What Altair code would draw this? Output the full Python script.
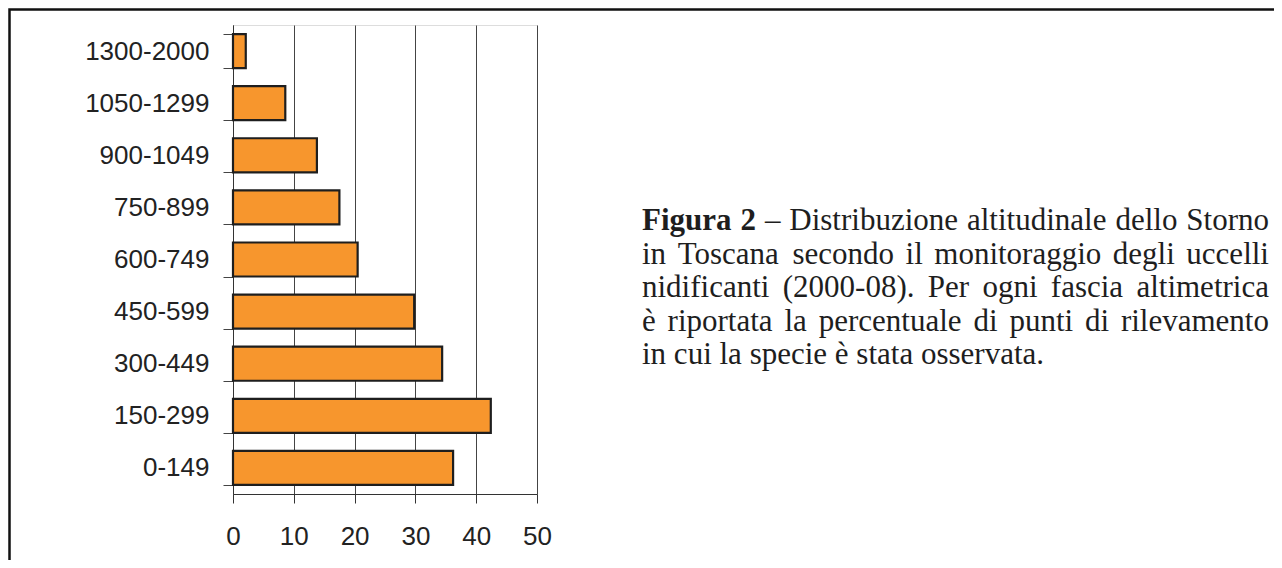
import altair as alt
import pandas as pd

# ---- data ----
bands = ["1300-2000", "1050-1299", "900-1049", "750-899", "600-749",
         "450-599", "300-449", "150-299", "0-149"]
percent = [2.1, 8.6, 13.8, 17.5, 20.5, 29.8, 34.4, 42.4, 36.2]
x_ticks = [0, 10, 20, 30, 40, 50]

caption_bold = ["Figura", "2"]
caption_lines = [
    "– Distribuzione altitudinale dello Storno",
    "in Toscana secondo il monitoraggio degli uccelli",
    "nidificanti (2000-08). Per ogni fascia altimetrica",
    "è riportata la percentuale di punti di rilevamento",
    "in cui la specie è stata osservata.",
]

# ---- layout constants ----
W, H = 304, 469
TOTAL_W, TOTAL_H = 1266, 552
FS = 31
CAP_LEFT, CAP_WIDTH = 409, 627
CAP_BASE, CAP_LEAD = 205, 33.5

# Times (Liberation Serif) advance widths, 1/1000 em
reg = {" ": 250, "(": 333, ")": 333, "-": 333, ".": 250, "–": 500, "è": 444,
       "a": 444, "b": 500, "c": 444, "d": 500, "e": 444, "f": 333, "g": 500,
       "h": 500, "i": 278, "j": 278, "k": 500, "l": 278, "m": 778, "n": 500,
       "o": 500, "p": 500, "q": 500, "r": 333, "s": 389, "t": 278, "u": 500,
       "v": 500, "w": 722, "x": 500, "y": 500, "z": 444,
       "D": 722, "P": 556, "S": 556, "T": 611}
for d in "0123456789":
    reg[d] = 500
bold = {"F": 611, "i": 278, "g": 500, "u": 556, "r": 444, "a": 500, "2": 500, " ": 250}


def wwidth(word, table):
    return sum(table.get(c, 500) for c in word) * FS / 1000.0


rows = []
for i, line in enumerate(caption_lines):
    words = [(w, True) for w in caption_bold] if i == 0 else []
    words += [(w, False) for w in line.split(" ")]
    widths = [wwidth(w, bold if b else reg) for w, b in words]
    if i < len(caption_lines) - 1:
        gap = (CAP_WIDTH - sum(widths)) / (len(words) - 1)
    else:
        gap = 250 * FS / 1000.0
    x = CAP_LEFT
    for (w, b), wd in zip(words, widths):
        rows.append({"word": w, "x": x, "y": CAP_BASE + i * CAP_LEAD, "bold": b})
        x += wd + gap

words_df = pd.DataFrame(rows)
bars_df = pd.DataFrame({"band": bands, "percent": percent})
one = pd.DataFrame({"k": [0]})

bars = alt.Chart(bars_df).mark_bar(
    fill="#F7962D", stroke="#1e1e1e", strokeWidth=2.2
).encode(
    x=alt.X("percent:Q", scale=alt.Scale(domain=[0, 50], nice=False),
            axis=alt.Axis(values=x_ticks, title=None, grid=True, gridColor="#444444",
                          gridWidth=1, tickSize=9, tickColor="#333333",
                          domainColor="#333333", labelFont="Liberation Sans",
                          labelFontSize=26, labelColor="#222222", labelPadding=20,
                          labelFlush=False)),
    y=alt.Y("band:N", sort=bands,
            scale=alt.Scale(paddingInner=0.347, paddingOuter=0.1735),
            axis=alt.Axis(title=None, tickBand="extent", tickSize=10,
                          tickColor="#444444", domainColor="#333333",
                          labelFont="Liberation Sans", labelFontSize=26,
                          labelColor="#222222", labelPadding=14)),
)

text_reg = alt.Chart(words_df).transform_filter("!datum.bold").mark_text(
    align="left", baseline="alphabetic", font="Liberation Serif",
    fontSize=FS, color="#1e1e1e"
).encode(
    x=alt.X("x:Q", scale=None, axis=None),
    y=alt.Y("y:Q", scale=None, axis=None),
    text="word:N",
)
text_bold = alt.Chart(words_df).transform_filter("datum.bold").mark_text(
    align="left", baseline="alphabetic", font="Liberation Serif",
    fontSize=FS, fontWeight="bold", color="#1e1e1e"
).encode(
    x=alt.X("x:Q", scale=None, axis=None),
    y=alt.Y("y:Q", scale=None, axis=None),
    text="word:N",
)

# outer frame of the figure (only its left and top edges are inside the page)
frame = alt.Chart(one).mark_rect(
    fill="transparent", stroke="#111111", strokeWidth=2.5
).encode(
    x=alt.value(-223.5), x2=alt.value(1300),
    y=alt.value(-15.5), y2=alt.value(900),
)

chart = alt.layer(bars, text_reg, text_bold, frame).resolve_scale(
    x="independent", y="independent"
).properties(
    width=W, height=H,
    autosize=alt.AutoSizeParams(type="none"),
    padding={"left": 225, "top": 17, "right": TOTAL_W - 225 - W,
             "bottom": TOTAL_H - 17 - H},
).configure_view(stroke="#666666", strokeWidth=1).configure(background="white")

chart.save("out.html", embed_options={"renderer": "svg", "actions": False})
